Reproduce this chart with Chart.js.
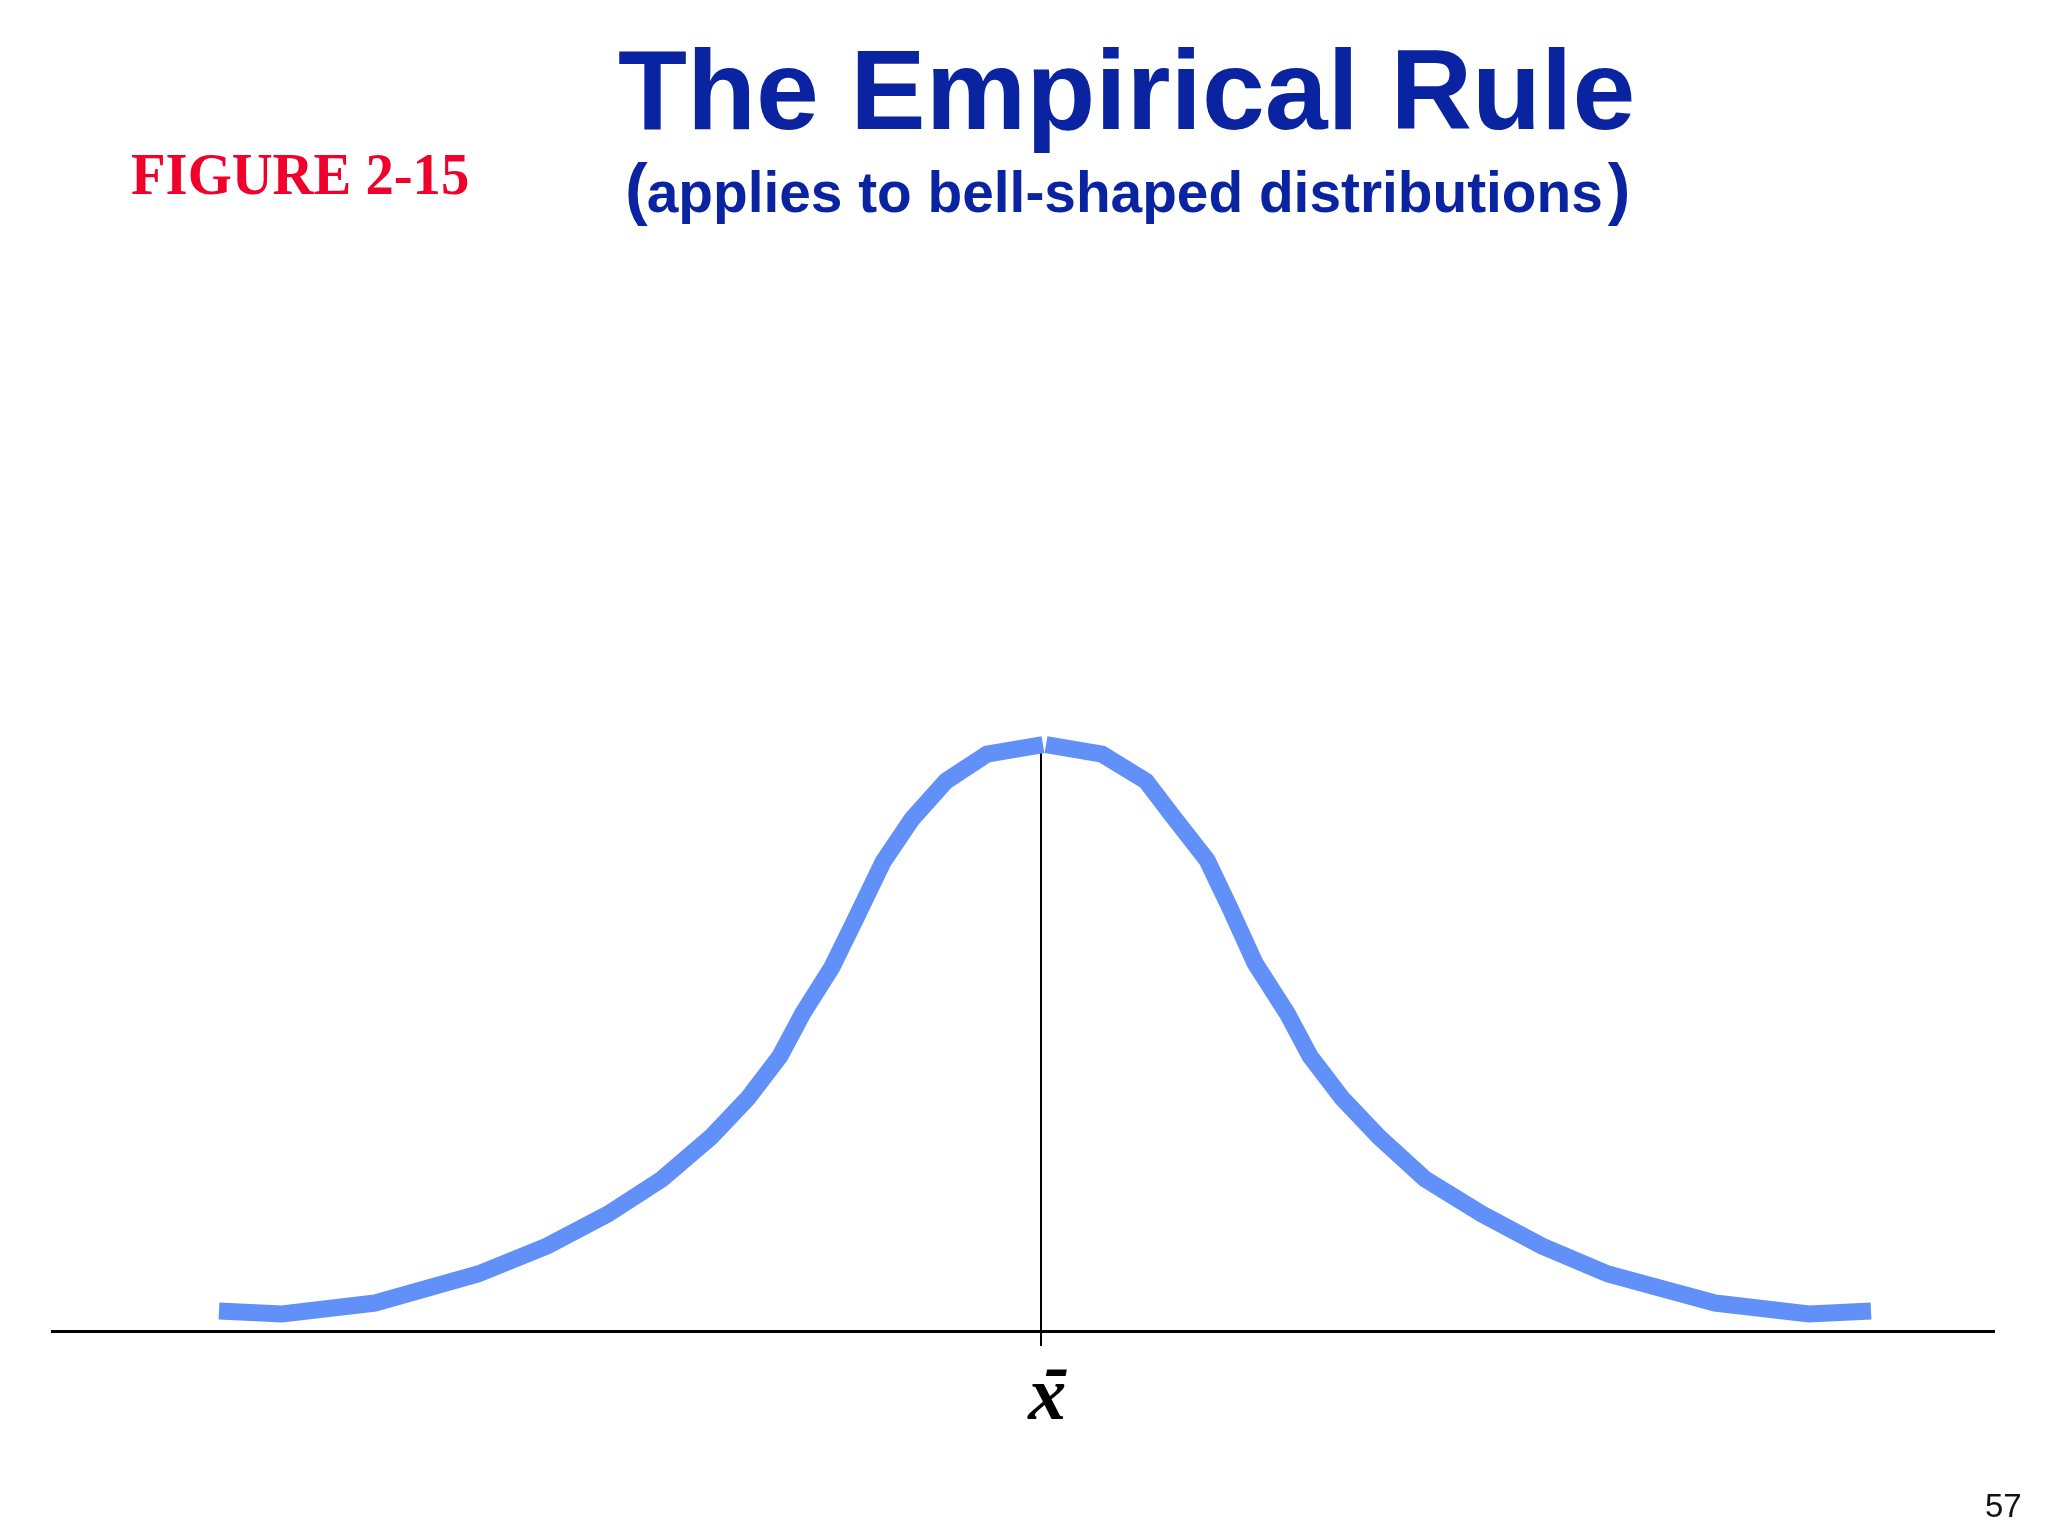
<!DOCTYPE html>
<html>
<head>
<meta charset="utf-8">
<script src="https://cdn.jsdelivr.net/npm/chart.js@4.4.1/dist/chart.umd.min.js"></script>
<style>
  html, body { margin: 0; padding: 0; background: #fff; }
  .slide { position: relative; width: 2048px; height: 1536px; overflow: hidden; background: #fff; }
  .slide canvas { position: absolute; left: 0; top: 0; }
  .txt { position: absolute; white-space: nowrap; }
  .title { left: 618px; top: 34px; font: bold 113px/113px "Liberation Sans", Arial, sans-serif; color: #0a23a0; }
  .subtitle { left: 625px; top: 158px; font: bold 56.8px/70px "Liberation Sans", Arial, sans-serif; color: #0a23a0; }
  .subtitle .paren { font-size: 68px; line-height: 0; }
  .subtitle .open { margin-right: -1px; }
  .subtitle .close { margin-left: 5px; }
  .figlabel { left: 131px; top: 144px; font: bold 60px/60px "Liberation Serif", "Times New Roman", serif; color: #f0002a;
              transform: scaleX(0.944); transform-origin: left top; }
  .pagenum { left: 1985px; top: 1489px; font: 33px/33px "Liberation Sans", Arial, sans-serif; color: #111; }
</style>
</head>
<body>
<div class="slide">
  <canvas id="bellChart" width="2048" height="1536"></canvas>
  <div class="txt title">The Empirical Rule</div>
  <div class="txt subtitle"><span class="paren open">(</span>applies to bell-shaped distributions<span class="paren close">)</span></div>
  <div class="txt figlabel">FIGURE 2-15</div>
  <div class="txt pagenum">57</div>
</div>
<script>
// x in units from the mean, y as % of the peak height
const leftX  = [-4.11, -3.795, -3.33, -2.815, -2.47, -2.165, -1.895, -1.65, -1.465, -1.305, -1.19, -1.045, -0.92, -0.79, -0.645, -0.475, -0.27, 0.01];
const leftY  = [3.41, 2.90, 4.77, 9.72, 14.49, 19.95, 25.92, 33.08, 39.73, 46.89, 54.22, 62.06, 70.76, 79.97, 87.30, 93.78, 98.38, 100];
const rightX = [0.025, 0.305, 0.525, 0.67, 0.83, 0.945, 1.07, 1.23, 1.345, 1.505, 1.69, 1.92, 2.205, 2.505, 2.835, 3.37, 3.84, 4.15];
const rightY = [100, 98.38, 93.78, 87.30, 80.31, 72.12, 62.75, 54.22, 46.89, 39.73, 33.08, 25.92, 19.95, 14.49, 9.72, 4.77, 2.90, 3.41];
const meanX = 0;
const meanLineTop = 98.7;
const tickValues = [0];
// x-bar: a short bar line over the x (leading spaces nudge each line right, like the italic original)
const tickLabels = [['\u2004\u200A-', '\u2006x']];

const toPoints = (xs, ys) => xs.map((x, i) => ({ x: x, y: ys[i] }));

const curveStyle = {
  borderColor: '#6190f8',
  borderWidth: 17,
  borderCapStyle: 'butt',
  borderJoinStyle: 'miter',
  pointRadius: 0,
  tension: 0,
  fill: false,
  clip: false
};

const ctx = document.getElementById('bellChart').getContext('2d');
new Chart(ctx, {
  type: 'line',
  data: {
    datasets: [
      Object.assign({ label: 'left', data: toPoints(leftX, leftY) }, curveStyle),
      Object.assign({ label: 'right', data: toPoints(rightX, rightY) }, curveStyle),
      {
        label: 'mean',
        data: [{ x: meanX, y: 0 }, { x: meanX, y: meanLineTop }],
        borderColor: '#000',
        borderWidth: 2,
        pointRadius: 0,
        fill: false
      }
    ]
  },
  options: {
    responsive: false,
    devicePixelRatio: 1,
    animation: false,
    layout: { padding: { left: 52, right: 54, top: 686, bottom: 0 } },
    plugins: { legend: { display: false }, tooltip: { enabled: false }, title: { display: false } },
    scales: {
      x: {
        type: 'linear',
        min: -4.945,
        max: 4.765,
        afterBuildTicks: (scale) => { scale.ticks = tickValues.map(v => ({ value: v })); },
        afterFit: (scale) => { scale.height = 205; },
        grid: { drawOnChartArea: false, drawTicks: true, tickLength: 15, color: '#000', lineWidth: 2 },
        border: { display: true, color: '#000', width: 3 },
        ticks: {
          autoSkip: false,
          maxRotation: 0,
          padding: 12,
          color: '#000',
          font: { family: 'Liberation Serif', size: 76, style: 'italic', weight: 'bold', lineHeight: '27.5px' },
          callback: (value, i) => tickLabels[i]
        }
      },
      y: { display: false, min: 0, max: 110 }
    }
  }
});
</script>
</body>
</html>
